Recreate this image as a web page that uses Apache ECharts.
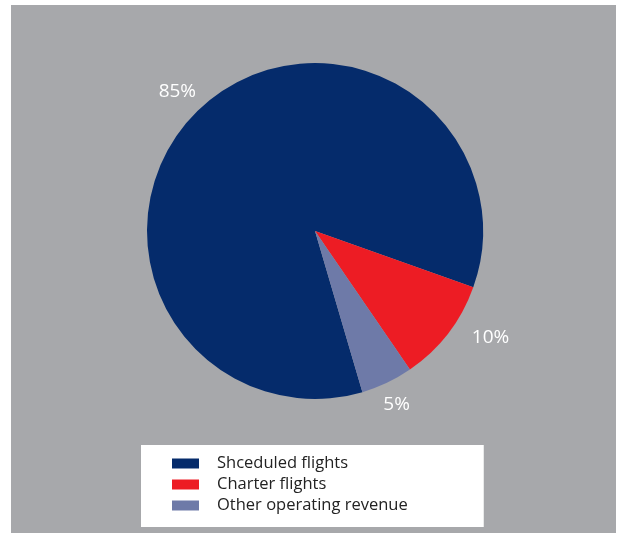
<!DOCTYPE html>
<html>
<head>
<meta charset="utf-8">
<script src="https://cdn.jsdelivr.net/npm/echarts@6/dist/echarts.min.js"></script>
<style>
html,body{margin:0;padding:0;background:#fff;width:619px;height:533px;overflow:hidden;}
#c{position:absolute;left:11px;top:5px;width:605px;height:528px;background:#a7a8ab;}
</style>
</head>
<body>
<div id="c"></div>
<script>
const categories = ['Shceduled flights', 'Charter flights', 'Other operating revenue'];
const values = [85, 10, 5];
const colors = ['#052b6b', '#ed1c24', '#6e7aa8'];
// per-slice label offsets (style only)
const labelLens = [[24, -18], [6, 14], [24, -19]];

const chart = echarts.init(document.getElementById('c'), null, {renderer: 'canvas'});
chart.setOption({
  backgroundColor: '#a7a8ab',
  animation: false,
  color: colors,
  legend: {
    orient: 'vertical',
    left: 130,
    top: 440,
    backgroundColor: '#ffffff',
    padding: [10, 76, 13, 31],
    itemWidth: 27,
    itemHeight: 10,
    itemGap: 4,
    icon: 'rect',
    textStyle: {color: '#222222', fontSize: 16.5, fontFamily: 'Open Sans', padding: [0, 0, 0, 13]},
    data: categories
  },
  series: [{
    type: 'pie',
    center: [304, 226],
    radius: 168,
    startAngle: 286.4,
    clockwise: true,
    silent: true,
    avoidLabelOverlap: false,
    label: {
      show: true,
      position: 'outside',
      formatter: '{d}%',
      color: '#ffffff',
      fontSize: 19,
      fontFamily: 'Open Sans'
    },
    labelLine: {show: false},
    itemStyle: {borderWidth: 0},
    data: categories.map((n, i) => ({
      name: n,
      value: values[i],
      labelLine: {show: false, length: labelLens[i][0], length2: labelLens[i][1]}
    }))
  }]
});
</script>
</body>
</html>
